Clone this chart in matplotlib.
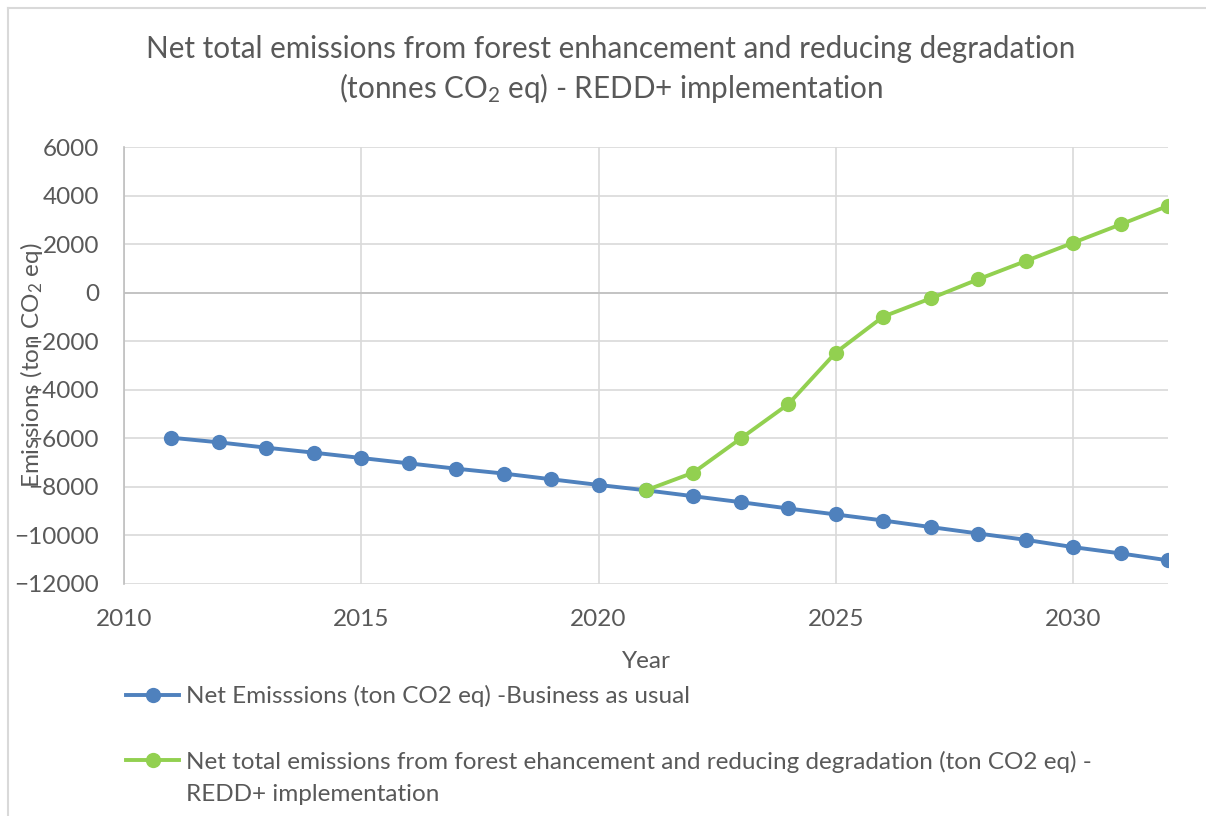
"""Net emissions: business as usual vs REDD+ implementation (Excel-style line chart)."""

import matplotlib.pyplot as plt
from matplotlib.lines import Line2D

plt.rcParams["font.family"] = ["Lato", "DejaVu Sans"]
plt.rcParams["mathtext.default"] = "regular"

# ---------------------------------------------------------------------------
# Data
# ---------------------------------------------------------------------------
years_bau = [2011, 2012, 2013, 2014, 2015, 2016, 2017, 2018, 2019, 2020, 2021,
             2022, 2023, 2024, 2025, 2026, 2027, 2028, 2029, 2030, 2031, 2032]
bau = [-5975, -6165, -6385, -6590, -6810, -7030, -7250, -7450, -7685, -7920, -8140,
       -8385, -8630, -8890, -9135, -9385, -9655, -9920, -10180, -10480, -10740, -11025]

years_redd = [2021, 2022, 2023, 2024, 2025, 2026, 2027, 2028, 2029, 2030, 2031, 2032]
redd = [-8140, -7410, -6000, -4590, -2465, -985, -235, 550, 1300, 2055, 2810, 3575]

x_ticks = [2010, 2015, 2020, 2025, 2030]
y_ticks = [6000, 4000, 2000, 0, -2000, -4000, -6000, -8000, -10000, -12000]

label_bau = "Net Emisssions (ton CO2 eq) -Business as usual"
label_redd = ("Net total emissions from forest ehancement and reducing "
              "degradation (ton CO2 eq) -")
label_redd_cont = "REDD+ implementation"

BLUE = "#4F81BD"
GREEN = "#92D050"
TEXT = "#595959"
GRID = "#D9D9D9"

W, H = 1206, 816
fig = plt.figure(figsize=(W / 100, H / 100), dpi=100)
ax = fig.add_axes([124 / W, 1 - 584 / H, (1168 - 124) / W, (584 - 147) / H])

line_kw = dict(linewidth=2.8, marker="o", markersize=11, markeredgewidth=0)
ax.plot(years_bau, bau, color=BLUE, label=label_bau, zorder=3, **line_kw)
ax.plot(years_redd, redd, color=GREEN, label=label_redd, zorder=4, **line_kw)

ax.set_xlim(2010, 2032)
ax.set_ylim(-12000, 6000)
ax.set_xticks(x_ticks)
ax.set_yticks(y_ticks)
ax.grid(True, color=GRID, linewidth=1.2, zorder=0)
ax.set_axisbelow(True)
for side in ("top", "right", "bottom"):
    ax.spines[side].set_visible(False)
ax.spines["left"].set_color("#BFBFBF")
ax.spines["left"].set_linewidth(1.2)
ax.axhline(0, color="#BFBFBF", linewidth=1.2, zorder=1)
ax.tick_params(length=0, labelsize=17.5, labelcolor=TEXT)
ax.tick_params(axis="y", pad=18)
ax.tick_params(axis="x", pad=18)

ax.set_xlabel("Year", fontsize=17.5, color=TEXT)
ax.xaxis.set_label_coords(0.5, -(661 - 584) / (584 - 147))
ax.xaxis.label.set_va("center")

fig.text(32 / W, 1 - 365 / H, "Emissions (ton CO$_2$ eq)", rotation=90,
         ha="center", va="center", fontsize=17.5, color=TEXT)

fig.text(611 / W, 1 - 70 / H,
         "Net total emissions from forest enhancement and reducing degradation\n"
         "(tonnes CO$_2$ eq) - REDD+ implementation",
         ha="center", va="center", fontsize=21.3, color=TEXT, linespacing=1.3)

leg = fig.legend(loc="upper left", bbox_to_anchor=(126 / W, 1 - 685 / H),
                 frameon=False, fontsize=17.5, handlelength=2.2,
                 handletextpad=0.25, labelspacing=1.8, borderpad=0,
                 borderaxespad=0, labelcolor=TEXT)

# continuation of the wrapped second legend label
fig.canvas.draw()
bb = leg.get_texts()[1].get_window_extent()
fig.text(bb.x0 / W, (bb.y0 - 33 + bb.height / 2) / H, label_redd_cont,
         ha="left", va="center", fontsize=17.5, color=TEXT)

# Excel chart-area frame (cropped at right and bottom)
fig.add_artist(Line2D([8 / W, 8 / W], [0, 1 - 8 / H], color=GRID, linewidth=1.5))
fig.add_artist(Line2D([8 / W, 1], [1 - 8 / H, 1 - 8 / H], color=GRID, linewidth=1.5))

fig.savefig("out.png", dpi=100)
